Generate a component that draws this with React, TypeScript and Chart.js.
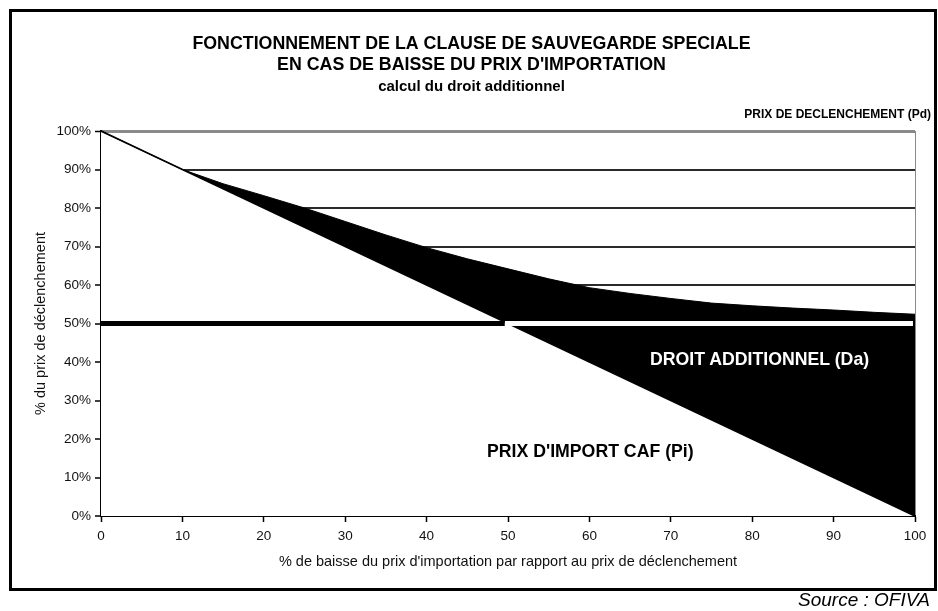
import React, { useEffect, useRef } from "react";
import { Chart, registerables } from "chart.js";

Chart.register(...registerables);

// ---- data ----
const declineX = [0, 5, 10, 15, 20, 25, 30, 35, 40, 45, 50, 55, 60, 65, 70, 75, 80, 85, 90, 95, 100];
const importPricePi = [100, 95, 90, 85, 80, 75, 70, 65, 60, 55, 50, 45, 40, 35, 30, 25, 20, 15, 10, 5, 0];
const priceWithDutyDa = [100, 95, 90, 86.3, 83.2, 80, 76.5, 73, 69.7, 66.8, 64.2, 61.6, 59.3, 57.8, 56.5, 55.3, 54.6, 54, 53.5, 52.9, 52.4];
const thresholdLevel = 50;
const thresholdBlackX = [0, 49.6];
const thresholdWhiteX = [49.6, 99.75];
const xTickStep = 10;
const yTickStep = 10;

const titleLines = [
  "FONCTIONNEMENT DE LA CLAUSE DE SAUVEGARDE SPECIALE",
  "EN CAS DE BAISSE DU PRIX D'IMPORTATION",
];
const subtitleText = "calcul du droit additionnel";
const xAxisTitle = "% de baisse du prix d'importation par rapport au prix de déclenchement";
const yAxisTitle = "% du prix de déclenchement";
const labelPd = "PRIX DE DECLENCHEMENT (Pd)";
const labelDa = "DROIT ADDITIONNEL (Da)";
const labelPi = "PRIX D'IMPORT CAF (Pi)";
const sourceText = "Source : OFIVA";

const FONT = "'Liberation Sans', Arial, Helvetica, sans-serif";

export default function App() {
  const ref = useRef<HTMLCanvasElement | null>(null);

  useEffect(() => {
    if (!ref.current) return;
    const chart = new Chart(ref.current, {
      type: "line",
      data: {
        datasets: [
          {
            label: "seuil",
            data: thresholdBlackX.map((x) => ({ x, y: thresholdLevel })),
            borderColor: "#000",
            borderWidth: 5,
            borderCapStyle: "butt",
            pointRadius: 0,
            fill: false,
          },
          {
            label: "seuil (Da)",
            data: thresholdWhiteX.map((x) => ({ x, y: thresholdLevel })),
            borderColor: "#fff",
            borderWidth: 5,
            borderCapStyle: "butt",
            pointRadius: 0,
            fill: false,
          },
          {
            label: "Pi + Da",
            data: declineX.map((x, i) => ({ x, y: priceWithDutyDa[i] })),
            borderColor: "#000",
            borderWidth: 1,
            backgroundColor: "#000",
            pointRadius: 0,
            fill: 3,
          },
          {
            label: "Pi",
            data: declineX.map((x, i) => ({ x, y: importPricePi[i] })),
            borderColor: "#000",
            borderWidth: 1.8,
            backgroundColor: "#fff",
            pointRadius: 0,
            fill: "origin",
          },
        ],
      },
      options: {
        animation: false,
        responsive: false,
        devicePixelRatio: 1,
        layout: { padding: { left: 28, right: 23, top: 12, bottom: 35 } },
        plugins: {
          legend: { display: false },
          tooltip: { enabled: false },
          title: {
            display: true,
            text: titleLines,
            color: "#000",
            font: { family: FONT, size: 17.8, weight: "bold", lineHeight: 1.2 },
            padding: { top: 21.2, bottom: 0 },
          },
          subtitle: {
            display: true,
            text: subtitleText,
            color: "#000",
            font: { family: FONT, size: 15, weight: "bold", lineHeight: 1.2 },
            padding: { top: 2, bottom: 35.08 },
          },
        },
        scales: {
          x: {
            type: "linear",
            min: 0,
            max: 100,
            ticks: {
              stepSize: xTickStep,
              color: "#111",
              padding: 6,
              maxRotation: 0,
              font: { family: FONT, size: 13.5 },
            },
            grid: {
              color: (ctx: any) => (ctx.tick && ctx.tick.value === 100 ? "#8a8a8a" : "rgba(0,0,0,0)"),
              lineWidth: 1,
              tickColor: "#000",
              tickLength: 6,
              tickWidth: 1.5,
            },
            border: { color: "#000", width: 2 },
            title: {
              display: true,
              text: xAxisTitle,
              color: "#111",
              font: { family: FONT, size: 14.5 },
              padding: { top: 4, bottom: 5.5 },
            },
            afterFit: (s: any) => {
              s.height = 60;
            },
          },
          y: {
            min: 0,
            max: 100,
            ticks: {
              stepSize: yTickStep,
              color: "#111",
              padding: 4,
              font: { family: FONT, size: 13.5 },
              callback: (v: any) => v + "%",
            },
            grid: {
              color: (ctx: any) => (ctx.tick && ctx.tick.value === 100 ? "#8a8a8a" : "#2a2a2a"),
              lineWidth: (ctx: any) => (ctx.tick && ctx.tick.value === 100 ? 3 : 2),
              tickColor: "#000",
              tickLength: 6,
              tickWidth: 1.5,
            },
            border: { color: "#000", width: 2.5 },
            title: {
              display: true,
              text: yAxisTitle,
              color: "#111",
              font: { family: FONT, size: 14.5 },
              padding: { top: 4, bottom: 4 },
            },
            afterFit: (s: any) => {
              s.width = 73;
            },
          },
        },
      },
    });
    return () => chart.destroy();
  }, []);

  const boldLabel = (extra: React.CSSProperties): React.CSSProperties => ({
    position: "absolute",
    fontFamily: FONT,
    fontWeight: "bold",
    whiteSpace: "nowrap",
    lineHeight: 1,
    ...extra,
  });

  return (
    <div style={{ position: "fixed", left: 0, top: 0, width: 938, height: 611, background: "#fff", overflow: "hidden" }}>
      <canvas ref={ref} width={938} height={611} style={{ position: "absolute", left: 0, top: 0, width: 938, height: 611 }} />
      <div
        style={{
          position: "absolute",
          left: 9,
          top: 9,
          width: 928,
          height: 582,
          boxSizing: "border-box",
          border: "3.5px solid #000",
          pointerEvents: "none",
        }}
      />
      <div style={boldLabel({ right: 7, top: 108, fontSize: 12, color: "#000" })}>{labelPd}</div>
      <div style={boldLabel({ left: 650, top: 351, fontSize: 17.7, color: "#fff" })}>{labelDa}</div>
      <div style={boldLabel({ left: 487, top: 443, fontSize: 17.7, color: "#000" })}>{labelPi}</div>
      <div
        style={{
          position: "absolute",
          right: 8,
          top: 590,
          fontFamily: FONT,
          fontStyle: "italic",
          fontSize: 19,
          lineHeight: 1,
          color: "#000",
          whiteSpace: "nowrap",
        }}
      >
        {sourceText}
      </div>
    </div>
  );
}
